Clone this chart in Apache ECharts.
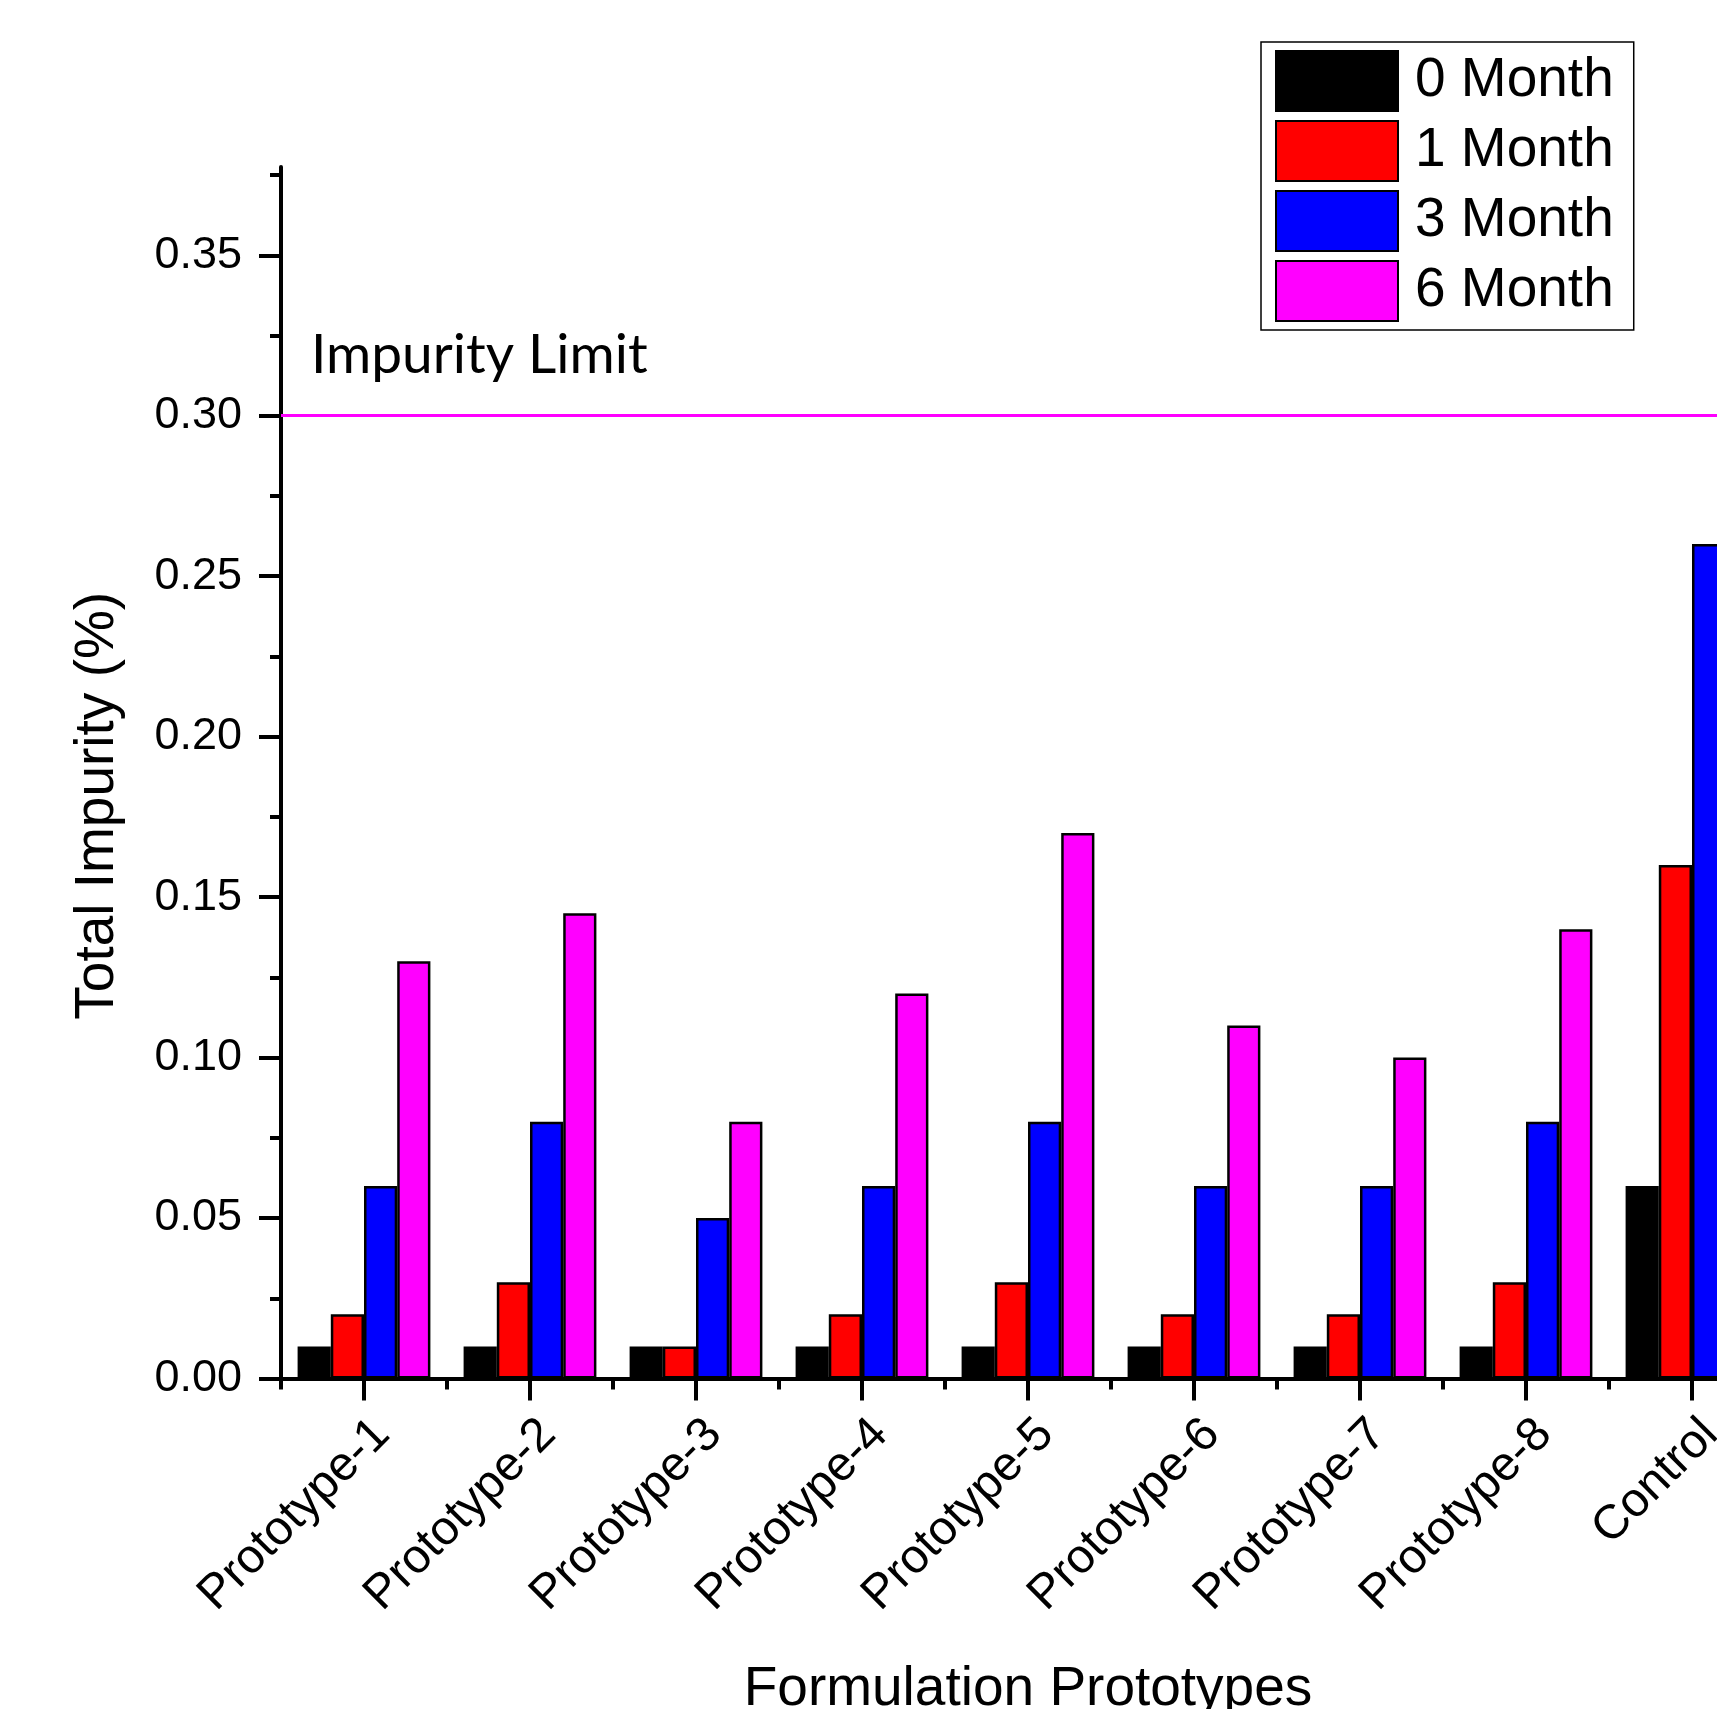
<!DOCTYPE html>
<html>
<head>
<meta charset="utf-8">
<script src="https://cdn.jsdelivr.net/npm/echarts@6/dist/echarts.min.js"></script>
<style>
  html, body { margin: 0; padding: 0; background: #ffffff; }
  #chart { width: 1717px; height: 1709px; }
</style>
</head>
<body>
<div id="chart"></div>
<script>
// Total impurity (%) of each formulation over the stability study
const categories = ['Prototype-1', 'Prototype-2', 'Prototype-3', 'Prototype-4', 'Prototype-5',
                    'Prototype-6', 'Prototype-7', 'Prototype-8', 'Control'];
const month0 = [0.01, 0.01, 0.01, 0.01, 0.01, 0.01, 0.01, 0.01, 0.06];
const month1 = [0.02, 0.03, 0.01, 0.02, 0.03, 0.02, 0.02, 0.03, 0.16];
const month3 = [0.06, 0.08, 0.05, 0.06, 0.08, 0.06, 0.06, 0.08, 0.26];
const month6 = [0.13, 0.145, 0.08, 0.12, 0.17, 0.11, 0.10, 0.14, null];
const seriesNames = ['0 Month', '1 Month', '3 Month', '6 Month'];
const seriesData = [month0, month1, month3, month6];
const seriesColors = ['#000000', '#FF0000', '#0000FF', '#FF00FF'];
const yMajorTicks = [0, 0.05, 0.10, 0.15, 0.20, 0.25, 0.30, 0.35];
const yMinorTicks = [0.025, 0.075, 0.125, 0.175, 0.225, 0.275, 0.325, 0.375];
const impurityLimit = 0.30;
const limitLabel = 'Impurity Limit';

const FONT = 'Liberation Sans';
const AXIS_MAX = 0.3775;

const chart = echarts.init(document.getElementById('chart'), null, { renderer: 'canvas' });

const axisLineStyle = { color: '#000', width: 4 };

chart.setOption({
  animation: false,
  backgroundColor: '#ffffff',
  textStyle: { fontFamily: FONT, color: '#000' },
  grid: {
    left: 281, top: 167, width: 1494, height: 1211.5,
    containLabel: false, outerBoundsMode: 'none'
  },
  legend: {
    orient: 'vertical',
    left: 1261, top: 42,
    padding: [8, 20, 8, 14],
    itemWidth: 122, itemHeight: 60, itemGap: 8,
    icon: 'rect',
    selectedMode: false,
    backgroundColor: '#ffffff',
    borderColor: '#000', borderWidth: 1.5,
    textStyle: { fontFamily: FONT, fontSize: 55, lineHeight: 60, color: '#000', padding: [0, 0, 0, 12] },
    data: seriesNames
  },
  xAxis: [
    {
      type: 'category', data: categories, position: 'bottom',
      name: 'Formulation Prototypes', nameLocation: 'middle', nameGap: 284,
      nameTextStyle: { fontFamily: FONT, fontSize: 55, color: '#000' },
      axisLine: { show: true, onZero: false, lineStyle: axisLineStyle },
      axisTick: { show: true, alignWithLabel: true, interval: 0, length: 22, lineStyle: axisLineStyle },
      axisLabel: {
        interval: 0, rotate: 45, margin: 67, padding: [0, -26, 0, 0],
        fontFamily: FONT, fontSize: 48, color: '#000'
      },
      splitLine: { show: false }
    },
    {
      type: 'category', data: categories, position: 'bottom',
      axisLine: { show: false },
      axisTick: { show: true, alignWithLabel: false, interval: 0, length: 11, lineStyle: axisLineStyle },
      axisLabel: { show: false },
      splitLine: { show: false }
    }
  ],
  yAxis: [
    {
      type: 'value', min: 0, max: AXIS_MAX, position: 'left',
      name: 'Total Impurity (%)', nameLocation: 'middle', nameGap: 156,
      nameTextStyle: { fontFamily: FONT, fontSize: 55, color: '#000', padding: [0, 66, 0, 0] },
      axisLine: { show: true, lineStyle: axisLineStyle },
      axisTick: { show: true, customValues: yMajorTicks, length: 22, lineStyle: axisLineStyle },
      axisLabel: {
        customValues: yMajorTicks, margin: 39, fontFamily: FONT, fontSize: 45, color: '#000',
        formatter: v => v.toFixed(2)
      },
      splitLine: { show: false }
    },
    {
      type: 'value', min: 0, max: AXIS_MAX, position: 'left',
      axisLine: { show: false },
      axisTick: { show: true, customValues: yMinorTicks, length: 11, lineStyle: axisLineStyle },
      axisLabel: { show: false },
      splitLine: { show: false }
    }
  ],
  series: seriesNames.map((name, i) => {
    const s = {
      type: 'bar', name, data: seriesData[i],
      xAxisIndex: 0, yAxisIndex: 0,
      barGap: '0%', barCategoryGap: '20%',
      itemStyle: { color: seriesColors[i], borderColor: '#000', borderWidth: 2.5 },
      emphasis: { disabled: true }
    };
    if (i === seriesNames.length - 1) {
      s.markLine = {
        silent: true,
        symbol: ['none', 'none'],
        lineStyle: { color: '#FF00FF', width: 3, type: 'solid' },
        label: {
          show: true, position: 'insideStartTop', formatter: limitLabel,
          fontFamily: 'Lato', fontSize: 55, color: '#000', distance: [30, 33]
        },
        emphasis: { disabled: true },
        data: [{ yAxis: impurityLimit }]
      };
    }
    return s;
  })
});
</script>
</body>
</html>
